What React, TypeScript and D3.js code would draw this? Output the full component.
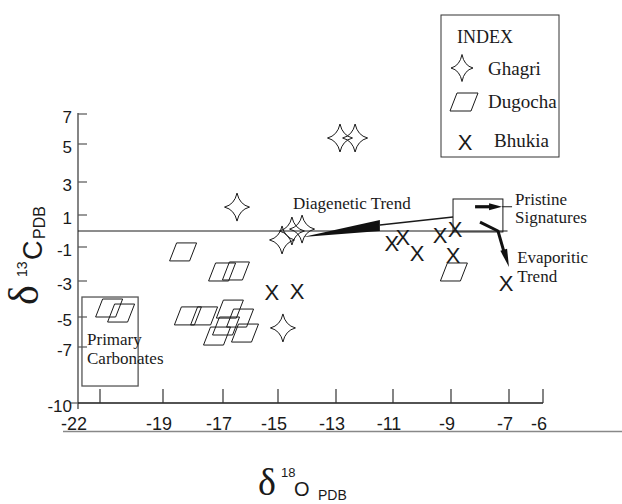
import React from "react";
import * as d3 from "d3";

// axis calibration of the original (hand drawn, uneven spacing)
const xDomain = [-22, -21, -19, -17, -15, -13, -11, -9, -7, -6];
const xRange = [78, 100, 163, 223, 278, 336, 393, 451, 509, 543];
const yDomain = [-10, -7, -5, -3, -1, 1, 3, 5, 7];
const yRange = [403, 347, 317, 281, 247, 215, 182, 144, 114];

const xTicks = [-21, -19, -17, -15, -13, -11, -9, -7, -6];
const xLabels = ["-22", "-19", "-17", "-15", "-13", "-11", "-9", "-7", "-6"];
const yTicks = [7, 5, 3, 1, -1, -3, -5, -7, -10];

// Ghagri (stars)
const ghagri = [
  [-12.86, 5.4],
  [-12.33, 5.4],
  [-16.49, 1.48],
  [-14.86, -0.56],
  [-14.52, 0.0],
  [-14.17, 0.12],
  [-14.83, -5.73],
];

// Dugocha (parallelograms)
const dugocha = [
  [-18.33, -1.29],
  [-17.03, -2.47],
  [-16.53, -2.41],
  [-20.71, -4.5],
  [-20.33, -4.78],
  [-18.17, -4.94],
  [-17.63, -4.94],
  [-16.75, -4.56],
  [-16.38, -5.07],
  [-16.89, -5.6],
  [-17.2, -6.27],
  [-16.2, -6.07],
  [-8.9, -2.47],
];

// Bhukia (X)
const bhukia = [
  [-15.22, -3.61],
  [-14.34, -3.56],
  [-11.04, -0.75],
  [-10.66, -0.38],
  [-10.17, -1.35],
  [-9.38, -0.25],
  [-8.86, 0.12],
  [-8.93, -1.47],
  [-7.1, -3.11],
];

const serif = "'Liberation Serif', 'Times New Roman', serif";
const sans = "'Liberation Sans Narrow', 'Liberation Sans', Arial, sans-serif";
const sansWide = "'Liberation Sans', Arial, sans-serif";

const starPath = (w: number, h: number) => {
  const k = w * 0.2;
  return `M0,${-h} Q${k},${-k} ${w},0 Q${k},${k} 0,${h} Q${-k},${k} ${-w},0 Q${-k},${-k} 0,${-h}Z`;
};

const paraPath = (w: number, s: number, h: number) =>
  `M${-w / 2 + s / 2},${-h / 2} L${w / 2 + s / 2},${-h / 2} L${w / 2 - s / 2},${h / 2} L${-w / 2 - s / 2},${h / 2}Z`;

const arrowHead = (x0: number, y0: number, x1: number, y1: number, len: number, hw: number) => {
  const dx = x1 - x0;
  const dy = y1 - y0;
  const d = Math.hypot(dx, dy);
  const ux = dx / d;
  const uy = dy / d;
  const bx = x1 - ux * len;
  const by = y1 - uy * len;
  return `M${x1},${y1} L${bx - uy * hw},${by + ux * hw} L${bx + uy * hw},${by - ux * hw}Z`;
};

export default function App() {
  const x = d3.scaleLinear().domain(xDomain).range(xRange);
  const y = d3.scaleLinear().domain(yDomain).range(yRange);
  const ink = "#1a1a1a";

  // annotation geometry in data units
  const wedge = [
    [-14.14, -0.375],
    [-11.46, 0.69],
    [-11.46, 0.0],
  ];
  const wedgeLine = d3.line()(
    [
      [-11.46, 0.375],
      [-8.93, 0.875],
    ].map(([a, b]) => [x(a), y(b)] as [number, number])
  );
  const evap = [
    [-8.0, 0.56],
    [-7.38, 0.0],
    [-7.17, -1.3],
  ].map(([a, b]) => [x(a), y(b)] as [number, number]);
  const evapTip: [number, number] = [x(-7.0), y(-2.18)];

  return (
    <svg
      width={622}
      height={504}
      style={{ position: "absolute", left: 0, top: 0, background: "#fff" }}
    >
      {/* y axis */}
      <line x1={x(-22)} x2={x(-22)} y1={y(7) - 1} y2={y(-10) + 6} stroke="#666" strokeWidth={1.6} />
      {yTicks.map((v) =>
        v === -10 ? (
          <line key={v} x1={x(-22) - 8} x2={x(-22)} y1={y(v)} y2={y(v)} stroke="#555" strokeWidth={1.2} />
        ) : (
          <line key={v} x1={x(-22)} x2={x(-22) + 9} y1={y(v)} y2={y(v)} stroke="#555" strokeWidth={1.2} />
        )
      )}
      {yTicks.map((v) => (
        <text key={v} x={72} y={y(v) + 9} textAnchor="end" fontFamily={sans} fontSize={17} fill={ink}>
          {v}
        </text>
      ))}

      {/* x axis */}
      <line x1={x(-22)} x2={x(-6)} y1={y(-10)} y2={y(-10)} stroke={ink} strokeWidth={1.6} />
      {xTicks.map((v) => (
        <line key={v} x1={x(v)} x2={x(v)} y1={y(-10) - 14} y2={y(-10)} stroke="#333" strokeWidth={1.2} />
      ))}
      {[-22, ...xTicks.slice(1)].map((v, i) => (
        <text key={v} x={x(v) - 4} y={430} textAnchor="middle" fontFamily={sans} fontSize={18} fill={ink}>
          {xLabels[i]}
        </text>
      ))}
      <line x1={63} x2={622} y1={431.5} y2={431.5} stroke="#888" strokeWidth={1.4} />

      {/* zero line */}
      <line x1={x(-22)} x2={x(-8.93)} y1={y(0)} y2={y(0)} stroke={ink} strokeWidth={1} />
      <line x1={x(-8.93)} x2={x(-7.05)} y1={y(0)} y2={y(0)} stroke="#888" strokeWidth={2.2} />

      {/* primary carbonates box */}
      <rect
        x={x(-21.82)}
        y={y(-3.89)}
        width={x(-19.79) - x(-21.82)}
        height={y(-9.09) - y(-3.89)}
        fill="none"
        stroke="#555"
        strokeWidth={1.3}
      />
      <text x={x(-21.59)} y={y(-6.87)} fontFamily={serif} fontSize={17} fill={ink}>
        Primary
      </text>
      <text x={x(-21.59)} y={y(-7.91)} fontFamily={serif} fontSize={17} fill={ink}>
        Carbonates
      </text>

      {/* markers */}
      {dugocha.map(([a, b], i) => (
        <path
          key={"d" + i}
          d={paraPath(20, 7, 18)}
          transform={`translate(${x(a)},${y(b)})`}
          fill="none"
          stroke={ink}
          strokeWidth={1}
        />
      ))}
      {ghagri.map(([a, b], i) => (
        <path
          key={"g" + i}
          d={starPath(12.5, 14)}
          transform={`translate(${x(a)},${y(b)})`}
          fill="none"
          stroke={ink}
          strokeWidth={1}
        />
      ))}
      {bhukia.map(([a, b], i) => (
        <text
          key={"b" + i}
          x={x(a)}
          y={y(b) + 8}
          textAnchor="middle"
          fontFamily={sansWide}
          fontSize={22}
          fill={ink}
        >
          X
        </text>
      ))}

      {/* diagenetic trend */}
      <path d={"M" + wedge.map(([a, b]) => `${x(a)},${y(b)}`).join("L") + "Z"} fill="#111" />
      <path d={wedgeLine ?? ""} stroke={ink} strokeWidth={1.6} fill="none" />
      <text x={x(-14.48)} y={y(1.36)} fontFamily={serif} fontSize={17} fill={ink}>
        Diagenetic Trend
      </text>

      {/* pristine signatures */}
      <rect
        x={x(-8.93)}
        y={y(1.97)}
        width={x(-7.21) - x(-8.93)}
        height={y(-0.06) - y(1.97)}
        fill="none"
        stroke={ink}
        strokeWidth={1}
      />
      <line x1={x(-8.17)} x2={x(-7.62)} y1={y(1.5)} y2={y(1.5)} stroke="#111" strokeWidth={3.2} />
      <path d={arrowHead(x(-8.17), y(1.5), x(-7.24), y(1.5), 13, 3.5)} fill="#111" />
      <line x1={x(-7.24)} x2={x(-6.91)} y1={y(1.5)} y2={y(1.5)} stroke={ink} strokeWidth={1} />
      <text x={x(-6.82)} y={y(1.61)} fontFamily={serif} fontSize={17} fill={ink}>
        Pristine
      </text>
      <text x={x(-6.82)} y={y(0.5)} fontFamily={serif} fontSize={17} fill={ink}>
        Signatures
      </text>

      {/* evaporitic trend */}
      <path d={d3.line()(evap) ?? ""} stroke="#111" strokeWidth={3} fill="none" strokeLinejoin="round" />
      <path d={arrowHead(evap[1][0], evap[1][1], evapTip[0], evapTip[1], 18, 3.5)} fill="#111" />
      <text x={x(-6.76)} y={y(-1.94)} fontFamily={serif} fontSize={17} fill={ink}>
        Evaporitic
      </text>
      <text x={x(-6.76)} y={y(-3.06)} fontFamily={serif} fontSize={17} fill={ink}>
        Trend
      </text>

      {/* legend */}
      <rect x={441} y={15} width={118} height={142} fill="none" stroke="#333" strokeWidth={1} />
      <text x={457} y={43} fontFamily={serif} fontSize={18} fill={ink}>
        INDEX
      </text>
      <path d={starPath(11, 13.5)} transform="translate(462,68)" fill="none" stroke={ink} strokeWidth={1} />
      <text x={488} y={75} fontFamily={serif} fontSize={19} fill={ink}>
        Ghagri
      </text>
      <path d={paraPath(21, 7, 18)} transform="translate(464,102)" fill="none" stroke={ink} strokeWidth={1} />
      <text x={488} y={108} fontFamily={serif} fontSize={19} fill={ink}>
        Dugocha
      </text>
      <text x={465} y={150} textAnchor="middle" fontFamily={sansWide} fontSize={22} fill={ink}>
        X
      </text>
      <text x={494} y={147} fontFamily={serif} fontSize={19} fill={ink}>
        Bhukia
      </text>

      {/* axis titles */}
      <text x={258} y={495} fontFamily={serif} fontSize={38} fill={ink}>
        δ
      </text>
      <text x={281} y={477} fontFamily={sansWide} fontSize={13} fill={ink}>
        18
      </text>
      <text x={294} y={496} fontFamily={sansWide} fontSize={20} fill={ink}>
        O
      </text>
      <text x={318} y={500} fontFamily={sansWide} fontSize={14} fill={ink}>
        PDB
      </text>

      <text transform="translate(38,305) rotate(-90)" fontFamily={serif} fontSize={42} fill={ink}>
        δ
      </text>
      <text transform="translate(27,277) rotate(-90)" fontFamily={sansWide} fontSize={14} fill={ink}>
        13
      </text>
      <text transform="translate(42,260) rotate(-90)" fontFamily={sansWide} fontSize={27} fill={ink}>
        C
      </text>
      <text transform="translate(45,239) rotate(-90)" fontFamily={sansWide} fontSize={16} fill={ink}>
        PDB
      </text>
    </svg>
  );
}
